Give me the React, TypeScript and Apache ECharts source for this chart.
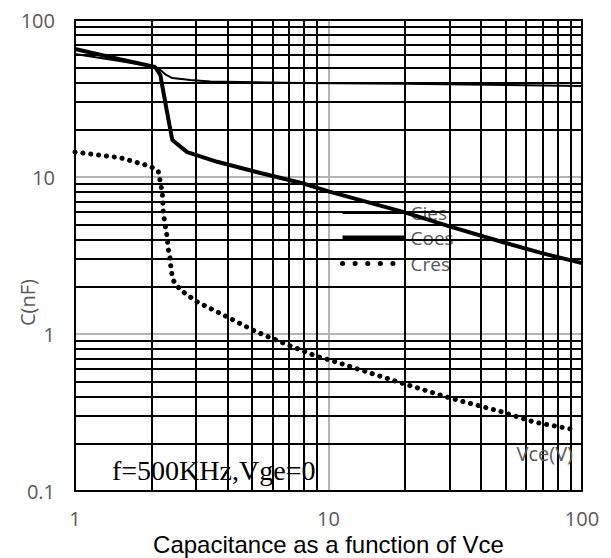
import React, { useEffect, useRef } from "react";
import * as echarts from "echarts";

// Vce (V) sample points and capacitances (nF)
const ciesVce = [1, 1.5, 2.07, 2.17, 2.29, 2.42, 2.85, 3.42, 7.75, 20, 50, 100];
const ciesCap = [60.7, 54.8, 50.2, 48.1, 44.7, 42.7, 41.5, 40.6, 39.7, 39.2, 38.6, 38.0];

const coesVce = [1, 1.5, 2.07, 2.17, 2.3, 2.42, 2.77, 3.64, 5.39, 7.75, 10, 20, 30, 50, 70, 100];
const coesCap = [65.3, 56.3, 50.2, 44.7, 26.7, 17.2, 14.4, 12.5, 10.6, 9.2, 8.1, 5.95, 4.85, 3.8, 3.26, 2.83];

const cresVce = [1, 1.5, 1.98, 2.13, 2.17, 2.21, 2.23, 2.27, 2.31, 2.33, 2.37, 2.39, 2.42, 2.45, 2.6, 3.04, 4, 5.14, 7.07, 9, 10.2, 19.2, 30.3, 48, 64.6, 94.4];
const cresCap = [14.4, 13.3, 11.7, 10.9, 9.3, 7.9, 5.9, 4.9, 4.15, 3.5, 3.05, 2.63, 2.31, 2.18, 1.91, 1.6, 1.28, 1.04, 0.84, 0.72, 0.68, 0.49, 0.39, 0.32, 0.275, 0.245];

const seriesNames = ["Cies", "Coes", "Cres"];

// Minor (black) grid positions on the log axes
const xMinorGrid = [2, 3, 4, 5, 6, 7, 8, 9, 20, 30, 40, 50, 60, 70, 80, 90];
const yMinorGrid = [0.2, 0.3, 0.4, 0.5, 0.6, 0.7, 0.8, 0.9, 2, 3, 4, 5, 6, 7, 8, 9, 20, 30, 40, 50, 60, 70, 80, 90];

const xTitle = "Capacitance as a function of Vce";
const yTitle = "C(nF)";
const noteText = "f=500KHz,Vge=0";
const unitText = "Vce(V)";

const zip = (xs: number[], ys: number[]) => xs.map((x, i) => [x, ys[i]]);

export default function App() {
  const ref = useRef<HTMLDivElement>(null);
  useEffect(() => {
    if (!ref.current) return;
    const chart = echarts.init(ref.current, null, { renderer: "svg" });
    const grey = "#595959";
    const labelFont = { color: grey, fontSize: 20, fontFamily: "Open Sans" };
    const dotted = { color: "#000", width: 5, type: [0.1, 7.8], cap: "round" };
    const option: any = {
      animation: false,
      backgroundColor: "#fff",
      grid: { left: 75, top: 20, right: 29, bottom: 67, show: false, containLabel: false, outerBoundsMode: "none" },
      legend: {
        data: [
          { name: seriesNames[0], lineStyle: { color: "#000", width: 3 }, itemStyle: { opacity: 0 } },
          { name: seriesNames[1], lineStyle: { color: "#000", width: 5 }, itemStyle: { opacity: 0 } },
          { name: seriesNames[2], lineStyle: { ...dotted, type: [0.1, 12.5] }, itemStyle: { opacity: 0 } },
        ],
        orient: "vertical",
        left: 340,
        top: 203,
        padding: 0,
        itemWidth: 63,
        itemHeight: 14,
        itemGap: 6.5,
        itemStyle: { opacity: 0 },
        textStyle: { ...labelFont, fontSize: 19 },
      },
      xAxis: [
        {
          type: "log",
          logBase: 10,
          min: 1,
          max: 100,
          name: xTitle,
          nameLocation: "middle",
          nameGap: 41,
          nameMoveOverlap: false,
          nameTextStyle: { color: "#000", fontSize: 24, fontFamily: "Liberation Sans" },
          axisLine: { show: true, lineStyle: { color: "#000", width: 2 } },
          axisTick: { show: false },
          axisLabel: { ...labelFont, margin: 17, showMinLabel: true, showMaxLabel: true },
          splitLine: { show: true, lineStyle: { color: "#b4b4b4", width: 2 } },
        },
        {
          type: "log",
          logBase: 10,
          min: 1,
          max: 100,
          position: "top",
          axisLine: { show: true, lineStyle: { color: "#000", width: 2 } },
          axisTick: { show: false },
          axisLabel: { show: false },
          splitLine: { show: false },
        },
      ],
      yAxis: [
        {
          type: "log",
          logBase: 10,
          min: 0.1,
          max: 100,
          name: yTitle,
          nameLocation: "middle",
          nameRotate: 90,
          nameGap: 38,
          nameMoveOverlap: false,
          nameTextStyle: { ...labelFont, padding: [0, 94, 0, 0] },
          axisLine: { show: true, lineStyle: { color: "#000", width: 2 } },
          axisTick: { show: false },
          axisLabel: { ...labelFont, margin: 20, showMinLabel: true, showMaxLabel: true },
          splitLine: { show: true, lineStyle: { color: "#b4b4b4", width: 2 } },
        },
        {
          type: "log",
          logBase: 10,
          min: 0.1,
          max: 100,
          position: "right",
          axisLine: { show: true, lineStyle: { color: "#000", width: 2 } },
          axisTick: { show: false },
          axisLabel: { show: false },
          splitLine: { show: false },
        },
      ],
      series: [
        {
          name: "grid",
          type: "line",
          data: [[1, 0.1]],
          showSymbol: false,
          symbol: "none",
          lineStyle: { width: 0 },
          z: 1,
          silent: true,
          markLine: {
            silent: true,
            symbol: ["none", "none"],
            label: { show: false },
            lineStyle: { color: "#000", width: 2, type: "solid" },
            data: [
              ...xMinorGrid.map((v) => ({ xAxis: v })),
              ...yMinorGrid.map((v) => ({ yAxis: v })),
            ],
          },
        },
        {
          name: seriesNames[0],
          type: "line",
          data: zip(ciesVce, ciesCap),
          symbol: "none",
          z: 5,
          lineStyle: { color: "#000", width: 2 },
          itemStyle: { color: "#000" },
        },
        {
          name: seriesNames[1],
          type: "line",
          data: zip(coesVce, coesCap),
          symbol: "none",
          z: 5,
          lineStyle: { color: "#000", width: 4 },
          itemStyle: { color: "#000" },
        },
        {
          name: seriesNames[2],
          type: "line",
          data: zip(cresVce, cresCap),
          symbol: "none",
          z: 5,
          lineStyle: dotted,
          itemStyle: { color: "#000" },
        },
      ],
      graphic: [
        {
          type: "text",
          x: 112,
          y: 470,
          z: 10,
          style: {
            text: noteText,
            fontSize: 28,
            fontFamily: "Liberation Serif",
            fill: "#000",
            align: "left",
            verticalAlign: "middle",
          },
        },
        {
          type: "text",
          x: 573,
          y: 453,
          z: 10,
          style: {
            text: unitText,
            fontSize: 20,
            fontFamily: "Open Sans",
            fill: grey,
            align: "right",
            verticalAlign: "middle",
          },
        },
      ],
    };
    chart.setOption(option);
    return () => chart.dispose();
  }, []);
  return (
    <div
      ref={ref}
      style={{ position: "fixed", left: 0, top: 0, width: 611, height: 558, background: "#fff" }}
    />
  );
}
